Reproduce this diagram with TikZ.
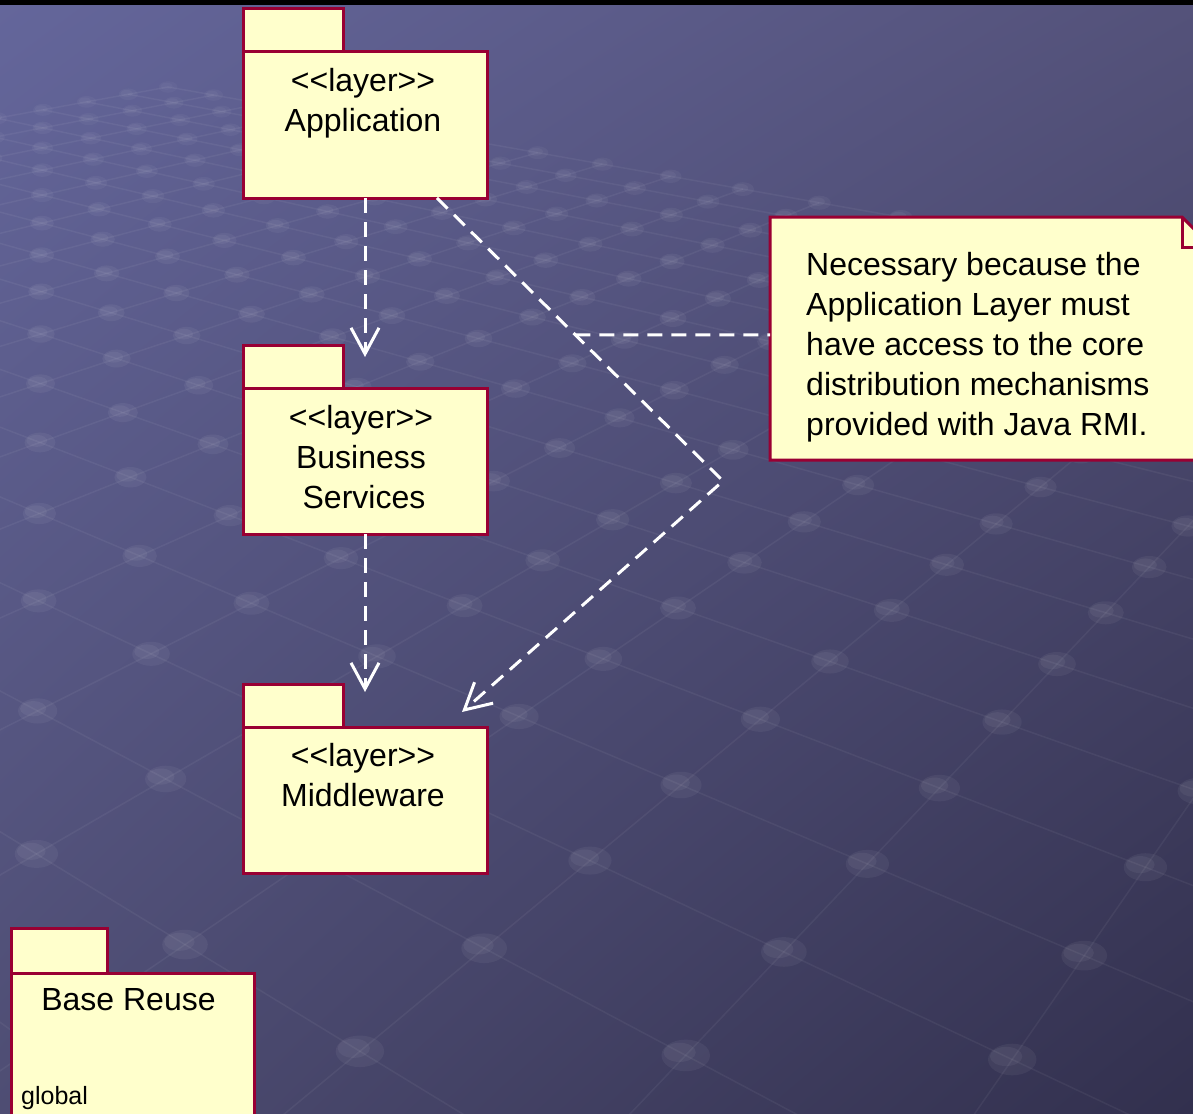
\documentclass[tikz,border=0pt]{standalone}
\usepackage{fontspec}
\setmainfont{Liberation Sans}[Ligatures=TeXOff]
\usetikzlibrary{arrows.meta, calc, positioning, shadings}
\definecolor{slidetl}{RGB}{100,102,155}
\definecolor{slidetr}{RGB}{84,82,122}
\definecolor{slidebl}{RGB}{78,77,115}
\definecolor{slidebr}{RGB}{50,48,78}
\definecolor{pkgfill}{RGB}{255,255,204}
\definecolor{pkgline}{RGB}{153,0,51}

\begin{document}
\begin{tikzpicture}[x=1pt, y=-1pt,
    declare function={gw(\u,\v)=1-0.058*\u-0.0573*\v;
      gx(\u,\v)=(103.9*\u-109.2*\v+678)/gw(\u,\v);
      gy(\u,\v)=(15.15*\u+13.19*\v+608)/gw(\u,\v);},
    gridline/.style={draw=white, draw opacity=0.05, line width=1.5pt},
    gridknob/.style={fill=white},
    pkg/.style={draw=pkgline, fill=pkgfill, line width=3pt, inner sep=0pt, outer sep=0pt},
    pkgtab/.style={pkg, minimum width=100, minimum height=43, anchor=south west},
    pkgbody/.style={pkg, minimum width=244, minimum height=146, anchor=north west},
    pkgname/.style={font=\fontsize{32}{40}\selectfont, align=center, inner sep=0pt, anchor=north},
    dashline/.style={draw=white, line width=3pt, dash pattern=on 15pt off 9pt},
    dep/.style={dashline, -{Straight Barb[length=26pt,width=28pt]}}]

  \useasboundingbox (0,0) rectangle (1193,1113);
  \clip (0,0) rectangle (1193,1113);

  % slide background with the receding grid of knobs
  \shade[upper left=slidetl, upper right=slidetr, lower left=slidebl, lower right=slidebr]
    (0,0) rectangle (1193,1113);
  \foreach \u in {-15,...,5}
    \draw[gridline] ({gx(\u,-12)},{gy(\u,-12)}) -- ({gx(\u,7)},{gy(\u,7)});
  \foreach \v in {-12,...,7}
    \draw[gridline] ({gx(-15,\v)},{gy(-15,\v)}) -- ({gx(5,\v)},{gy(5,\v)});
  \foreach \u in {-15,...,5}{
    \foreach \v in {-12,...,7}{
      \pgfmathsetmacro\kw{gw(\u,\v)}
      \pgfmathsetmacro\kx{gx(\u,\v)}
      \pgfmathsetmacro\ky{gy(\u,\v)}
      \pgfmathsetmacro\ko{0.05*min(1,1.7/\kw)}
      \fill[gridknob, fill opacity=\ko] (\kx,\ky) ellipse [x radius={18/\kw^0.7}, y radius={11.5/\kw^0.75}];
      \fill[gridknob, fill opacity=\ko] ($(\kx,\ky)+({-4/\kw},{-2/\kw})$) ellipse [x radius={12/\kw^0.7}, y radius={7/\kw^0.75}];
    }
  }
  \fill[black] (0,0) rectangle (1193,5);

  % layer packages
  \node[pkgbody] (app) at (243,52) {};
  \node[pkgtab] (apptab) at (app.north west) {};
  \node[pkgname] (applbl) at ($(app.north)+(-2,16)$) {<<layer>>\\Application};

  \node[pkgbody] (bus) at (243,388) {};
  \node[pkgtab] (bustab) at (bus.north west) {};
  \node[pkgname] (buslbl) at ($(bus.north)+(-4,17)$)
    {<<layer>>\\Business\hspace*{8pt}\\\hspace*{6pt}Services};

  \node[pkgbody] (mid) at (243,727) {};
  \node[pkgtab] (midtab) at (mid.north west) {};
  \node[pkgname] (midlbl) at ($(mid.north)+(-2,16)$) {<<layer>>\\Middleware};

  \node[pkgbody, minimum width=243, minimum height=160] (base) at (11,973) {};
  \node[pkgtab, minimum width=96, minimum height=45] (basetab) at (base.north west) {};
  \node[pkgname] (baselbl) at ($(base.north)+(-4,15)$) {Base Reuse};
  \node[font=\fontsize{25}{30}\selectfont, inner sep=0pt, anchor=base west] (basevis) at (21,1104) {global};

  % note with folded corner
  \node[minimum width=442, minimum height=243, inner sep=0pt, outer sep=0pt, anchor=north west] (note) at (770,217) {};
  \filldraw[pkg] (note.north west) -- ($(note.north east)+(-30,0)$) -- ($(note.north east)+(0,30)$)
    -- (note.south east) -- (note.south west) -- cycle;
  \draw[pkg, fill=none] ($(note.north east)+(-30,0)$) -- ($(note.north east)+(-30,30)$) -- ($(note.north east)+(0,30)$);
  \node[pkgname, align=left, anchor=north west] (notetxt) at ($(note.north west)+(36,35)$)
    {Necessary because the\\Application Layer must\\have access to the core\\distribution mechanisms\\provided with Java RMI.};

  % dependencies
  \coordinate (bustip) at ($(bus.north)+(0,-31)$);
  \coordinate (midtip) at ($(mid.north)+(0,-35)$);
  \coordinate (appfoot) at ($(app.south west)!0.795!(app.south east)$);
  \coordinate (bend) at (723,481);
  \coordinate (midcorner) at ($(mid.north east)+(-25,-15)$);
  \draw[dep] (app.south) -- (bustip);
  \draw[dep] (bus.south) -- (midtip);
  \draw[dep] (appfoot) -- (bend) -- (midcorner);
  \draw[dashline] ($(appfoot)!0.484!(bend)$) -- ($(note.north west)!0.485!(note.south west)$);
\end{tikzpicture}
\end{document}
